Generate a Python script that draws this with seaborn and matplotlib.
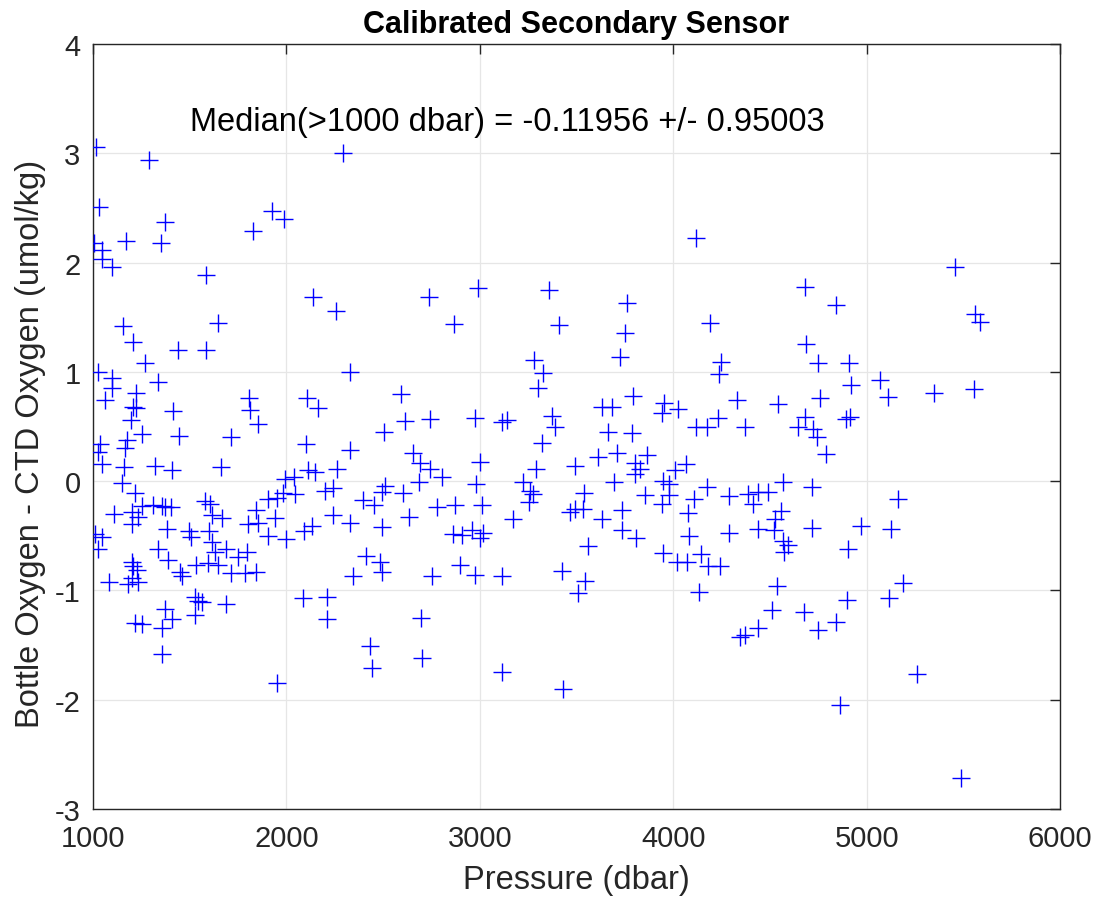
import pandas as pd
import seaborn as sns
import matplotlib.pyplot as plt

# Bottle minus CTD oxygen residuals
pressure = [
    1016, 1031, 1005, 1289, 1372, 1351, 1171, 1047, 1047, 1098, 1584, 1827, 1925, 1987, 2137,
    1155, 1207, 1646, 1439, 1584, 1269, 1026, 1336, 1098, 1098, 1062, 1222, 1207, 1222, 1413,
    1196, 1806, 1811, 1853, 2106, 2163,
    1253, 1444, 1713, 1176, 1036, 2101, 1026, 1165, 1047, 1160, 1320, 1408, 1662, 2111, 2147,
    1992, 2039, 1150, 1217, 2199, 2240, 1904, 1951, 1982, 2044, 1109, 1202, 1253, 1310, 1357,
    1403, 1372, 1579, 1605, 1615, 1667, 1842, 1801, 1853, 1941, 1233, 1202, 1382, 1496, 1506,
    1599, 1010, 1047, 1026, 1904, 1997, 2090, 2132, 2240, 1615, 1630, 1687, 1336, 1388, 1749,
    1796, 1202, 1207, 1227, 1450, 1460, 1532, 1594, 1646, 1713, 1786, 1842, 1083, 1181, 1233,
    1202, 1527, 1543, 1563, 1687, 2085, 2209, 1372, 1408, 1527, 2209, 1217, 1253, 1357, 1357,
    1951,
    2292, 2256, 2736, 2990, 3357, 2866, 3408, 2328, 3279, 3326, 3300, 2592, 2612, 2742, 2974,
    3140, 3114, 3372, 3388,
    2504, 2328, 2654, 2690, 2742, 2804, 2261, 3000, 3320, 3289, 3491, 2509, 2494, 2602, 2685,
    2980, 3222, 3258, 3274, 3253, 2395, 2452, 2328, 2494, 2633, 2778, 2871, 3010, 3171, 3465,
    3491, 2860, 2907, 2959, 3016, 3000, 2411, 2483, 2494, 2344, 2752, 2897, 2974, 3114, 3424,
    3506, 2695, 2432, 2700, 2442, 3114, 3429,
    4116, 3760, 3749, 3723, 4189, 4680, 4685, 4246, 4235, 4747, 3791, 3630, 3682, 3951, 3941,
    4023, 4328, 4540, 4680, 4757, 4230, 4116, 4173, 4370, 4643, 3661, 3786, 4721, 4742,
    3610, 3708, 3863, 3801, 3827, 3801, 4008, 4065, 3692, 3946, 3977, 3977, 4173, 3537, 3853,
    3941, 4106, 4287, 4385, 4437, 4488, 4411, 4566, 4716, 3532, 3734, 3630, 4075, 4555, 4524,
    3734, 3806, 4080, 4287, 4437, 4519, 4716, 3558, 4566, 4592, 4571, 3946, 4018, 4070, 4142,
    4178, 4240, 3543, 4132, 4535, 4509, 4674, 4437, 4747, 4344, 4370,
    5455, 4840, 5558, 5584, 4907, 4917, 5067, 5108, 5346, 5553, 4891, 4912,
    4788, 5160, 4969, 5124, 4902, 5186, 4897, 5114, 4840, 5258, 4860, 5486,
]
oxy_diff = [
    3.06, 2.51, 2.18, 2.94, 2.37, 2.18, 2.20, 2.12, 2.03, 1.96, 1.89, 2.29, 2.47, 2.40, 1.69,
    1.42, 1.27, 1.45, 1.20, 1.20, 1.08, 1.00, 0.91, 0.94, 0.85, 0.74, 0.81, 0.68, 0.67, 0.64,
    0.56, 0.76, 0.65, 0.52, 0.76, 0.67,
    0.43, 0.41, 0.40, 0.38, 0.34, 0.34, 0.27, 0.30, 0.16, 0.13, 0.14, 0.10, 0.13, 0.10, 0.08,
    0.02, 0.04, -0.02, -0.11, -0.09, -0.06, -0.16, -0.15, -0.11, -0.12, -0.30, -0.28, -0.23, -0.22, -0.23,
    -0.24, -0.24, -0.18, -0.21, -0.31, -0.34, -0.26, -0.39, -0.38, -0.34, -0.33, -0.39, -0.44, -0.46, -0.51,
    -0.46, -0.48, -0.51, -0.62, -0.50, -0.53, -0.46, -0.41, -0.31, -0.56, -0.65, -0.62, -0.62, -0.72, -0.69,
    -0.65, -0.74, -0.78, -0.81, -0.83, -0.87, -0.77, -0.75, -0.77, -0.84, -0.84, -0.83, -0.92, -0.94, -0.92,
    -0.89, -1.06, -1.10, -1.11, -1.12, -1.07, -1.06, -1.17, -1.26, -1.22, -1.26, -1.30, -1.31, -1.34, -1.58,
    -1.85,
    3.00, 1.56, 1.69, 1.77, 1.75, 1.44, 1.43, 1.00, 1.11, 0.99, 0.85, 0.80, 0.55, 0.57, 0.58,
    0.56, 0.54, 0.60, 0.50,
    0.45, 0.29, 0.26, 0.17, 0.11, 0.04, 0.11, 0.18, 0.35, 0.11, 0.14, -0.04, -0.10, -0.11, -0.01,
    -0.03, -0.01, -0.09, -0.12, -0.19, -0.17, -0.22, -0.38, -0.42, -0.33, -0.24, -0.22, -0.22, -0.35, -0.28,
    -0.25, -0.48, -0.49, -0.45, -0.47, -0.52, -0.68, -0.74, -0.83, -0.87, -0.87, -0.77, -0.86, -0.87, -0.82,
    -1.02, -1.25, -1.51, -1.62, -1.71, -1.75, -1.90,
    2.23, 1.63, 1.36, 1.14, 1.45, 1.78, 1.26, 1.09, 0.98, 1.08, 0.78, 0.68, 0.68, 0.72, 0.62,
    0.66, 0.74, 0.71, 0.59, 0.76, 0.58, 0.50, 0.50, 0.50, 0.50, 0.45, 0.44, 0.48, 0.40,
    0.22, 0.26, 0.24, 0.17, 0.11, 0.07, 0.10, 0.16, -0.01, 0.00, -0.03, -0.13, -0.05, -0.11, -0.13,
    -0.21, -0.16, -0.14, -0.12, -0.10, -0.10, -0.21, -0.01, -0.05, -0.25, -0.26, -0.35, -0.29, -0.27, -0.35,
    -0.45, -0.52, -0.50, -0.47, -0.44, -0.45, -0.43, -0.59, -0.55, -0.58, -0.65, -0.66, -0.74, -0.74, -0.67,
    -0.78, -0.78, -0.91, -1.01, -0.96, -1.18, -1.20, -1.34, -1.36, -1.43, -1.41,
    1.96, 1.61, 1.53, 1.46, 1.08, 0.88, 0.93, 0.77, 0.81, 0.84, 0.57, 0.59,
    0.25, -0.16, -0.41, -0.44, -0.62, -0.93, -1.09, -1.07, -1.29, -1.76, -2.05, -2.72,
]
x_ticks = [1000, 2000, 3000, 4000, 5000, 6000]
y_ticks = [-3, -2, -1, 0, 1, 2, 3, 4]
median_text = 'Median(>1000 dbar) = -0.11956 +/- 0.95003'

df = pd.DataFrame({'Pressure': pressure, 'Diff': oxy_diff})

sns.set_style('white')
plt.rcParams['font.family'] = ['Liberation Sans', 'DejaVu Sans']
plt.rcParams['axes.unicode_minus'] = False

fig = plt.figure(figsize=(11.01, 9.03), dpi=100)
ax = fig.add_axes([0.0845, 0.103, 0.8783, 0.847])

sns.scatterplot(data=df, x='Pressure', y='Diff', marker='+', color='#0000ff',
                s=150, linewidth=1.0, ax=ax, zorder=3)

ax.set_xlim(1000, 6000)
ax.set_ylim(-3, 4)
ax.set_xticks(x_ticks)
ax.set_yticks(y_ticks)
ax.grid(True, color='#e6e6e6', linewidth=0.9)
ax.set_axisbelow(True)

for side in ax.spines.values():
    side.set_color('#262626')
    side.set_linewidth(1.0)
ax.tick_params(direction='in', length=7, width=1.0, color='#262626',
               top=True, right=True, labelsize=21, labelcolor='#262626')
ax.tick_params(axis='x', pad=11)
ax.tick_params(axis='y', pad=9)

ax.set_title('Calibrated Secondary Sensor', fontsize=22, fontweight='bold',
             color='black', pad=9)
ax.set_xlabel('Pressure (dbar)', fontsize=23.5, color='#262626')
ax.set_ylabel('Bottle Oxygen - CTD Oxygen (umol/kg)', fontsize=23.5, color='#262626')
ax.xaxis.set_label_coords(0.5, -0.072)
ax.yaxis.set_label_coords(-0.049, 0.478)

ax.text(1500, 3.29, median_text, fontsize=23.5, ha='left', va='center', color='black')

plt.savefig('out.png', dpi=100)
